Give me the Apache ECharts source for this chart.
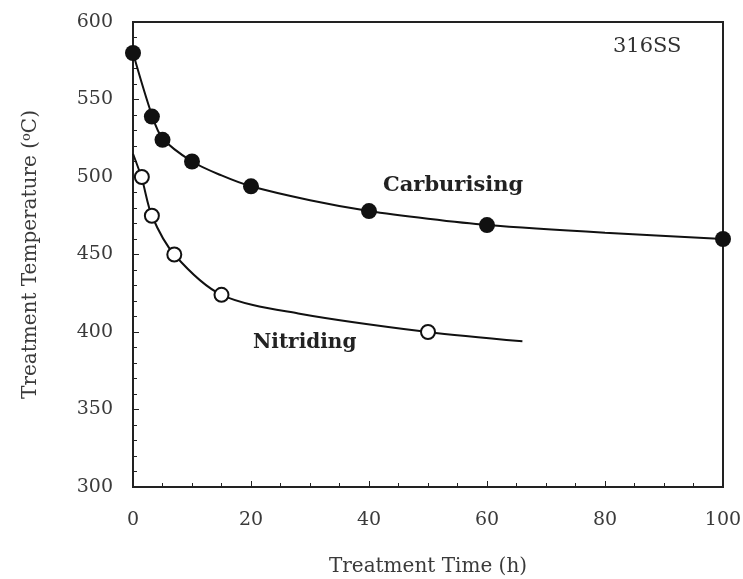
<!DOCTYPE html>
<html>
<head>
<meta charset="utf-8">
<script src="https://cdn.jsdelivr.net/npm/echarts@6/dist/echarts.min.js"></script>
<style>
  html, body { margin: 0; padding: 0; background: #fff; }
  #chart { width: 743px; height: 579px; }
</style>
</head>
<body>
<div id="chart"></div>
<script>
// measured points (time h, temperature C)
var carbTime = [0, 3.2, 5, 10, 20, 40, 60, 100];
var carbTemp = [580, 539, 524, 510, 494, 478, 469, 460];
var nitrTime = [1.5, 3.2, 7, 15, 50];
var nitrTemp = [500, 475, 450, 424, 400];

// fitted curves
var carbCurveTime = [0, 3.2, 5, 10, 15, 20, 30, 40, 50, 60, 80, 100];
var carbCurveTemp = [580, 540, 525, 510, 501, 494, 485, 478, 473, 469, 464, 460];
var nitrCurveTime = [0, 1.5, 3.2, 7, 15, 28, 50, 66];
var nitrCurveTemp = [515, 499, 475, 450, 424, 412, 400, 394];

var xTicks = [0, 20, 40, 60, 80, 100];
var yTicks = [300, 350, 400, 450, 500, 550, 600];

function pairs(xs, ys) {
    var out = [];
    for (var i = 0; i < xs.length; i++) {
        out.push([xs[i], ys[i]]);
    }
    return out;
}

var fontFam = '"DejaVu Serif", "Liberation Serif", serif';
var axisColor = '#222';
var textColor = '#3a3a3a';

var myChart = echarts.init(document.getElementById('chart'));

var option = {
    animation: false,
    grid: {
        left: 133, right: 20, top: 22, bottom: 92,
        outerBoundsMode: 'none',
        containLabel: false,
        show: true,
        borderColor: axisColor,
        borderWidth: 2
    },
    xAxis: {
        type: 'value',
        min: xTicks[0], max: xTicks[xTicks.length - 1], interval: 20,
        name: 'Treatment Time (h)',
        nameLocation: 'middle',
        nameGap: 70,
        nameTextStyle: { fontFamily: fontFam, fontSize: 20, color: textColor },
        axisLine: { lineStyle: { color: axisColor, width: 2 } },
        axisTick: { inside: true, length: 6, lineStyle: { color: axisColor } },
        minorTick: { show: true, splitNumber: 4, length: 4, lineStyle: { color: axisColor } },
        axisLabel: { margin: 24, fontFamily: fontFam, fontSize: 19, color: textColor },
        splitLine: { show: false }
    },
    yAxis: {
        type: 'value',
        min: yTicks[0], max: yTicks[yTicks.length - 1], interval: 50,
        name: 'Treatment Temperature ({sup|o}C)',
        nameLocation: 'middle',
        nameGap: 92,
        nameTextStyle: {
            fontFamily: fontFam, fontSize: 20, color: textColor,
            rich: { sup: { fontFamily: fontFam, fontSize: 13, color: textColor, verticalAlign: 'top', padding: [0, 0, 8, 0] } }
        },
        axisLine: { lineStyle: { color: axisColor, width: 2 } },
        axisTick: { inside: true, length: 6, lineStyle: { color: axisColor } },
        minorTick: { show: true, splitNumber: 5, length: 4, lineStyle: { color: axisColor } },
        axisLabel: { margin: 20, fontFamily: fontFam, fontSize: 19, color: textColor },
        splitLine: { show: false }
    },
    series: [
        {
            type: 'line', data: pairs(carbCurveTime, carbCurveTemp),
            smooth: 0.3, showSymbol: false, symbol: 'none',
            lineStyle: { color: '#111', width: 2 }, z: 2
        },
        {
            type: 'line', data: pairs(nitrCurveTime, nitrCurveTemp),
            smooth: 0.3, showSymbol: false, symbol: 'none',
            lineStyle: { color: '#111', width: 2 }, z: 2
        },
        {
            name: 'Carburising', type: 'scatter', data: pairs(carbTime, carbTemp),
            symbol: 'circle', symbolSize: 16,
            itemStyle: { color: '#111', opacity: 1 }, z: 3
        },
        {
            name: 'Nitriding', type: 'scatter', data: pairs(nitrTime, nitrTemp),
            symbol: 'circle', symbolSize: 14,
            itemStyle: { color: '#fff', borderColor: '#111', borderWidth: 2, opacity: 1 }, z: 3
        }
    ],
    graphic: [
        { type: 'text', left: 383, top: 175, style: { text: 'Carburising', font: 'bold 21px ' + fontFam, fill: '#222' } },
        { type: 'text', left: 253, top: 333, style: { text: 'Nitriding', font: 'bold 20px ' + fontFam, fill: '#222' } },
        { type: 'text', left: 613, top: 36, style: { text: '316SS', font: '21px ' + fontFam, fill: '#333' } }
    ]
};

myChart.setOption(option);
</script>
</body>
</html>
